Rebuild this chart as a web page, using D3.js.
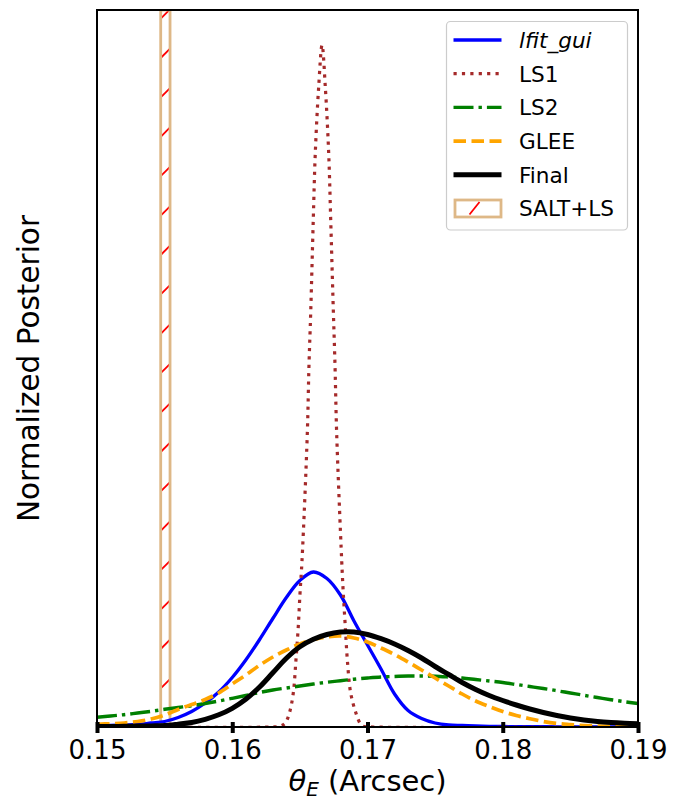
<!DOCTYPE html>
<html lang="en">
<head>
<meta charset="UTF-8">
<title>Theta_E posterior</title>
<script src="https://cdn.jsdelivr.net/npm/d3@7"></script>
<style>
  body { margin: 0; background: #fff; }
  svg { font-family: "DejaVu Sans", sans-serif; }
</style>
</head>
<body>
<div id="chart"></div>
<script>
var width = 685,
    height = 800;
var margin = {top: 10, right: 47, bottom: 73, left: 97};

// theta_E grid (arcsec) for the broad posteriors
var thetaGrid = [0.150, 0.151, 0.152, 0.153, 0.154, 0.155, 0.156, 0.157, 0.158, 0.159,
                 0.160, 0.161, 0.162, 0.163, 0.164, 0.165, 0.166, 0.167, 0.168, 0.169,
                 0.170, 0.171, 0.172, 0.173, 0.174, 0.175, 0.176, 0.177, 0.178, 0.179,
                 0.180, 0.181, 0.182, 0.183, 0.184, 0.185, 0.186, 0.187, 0.188, 0.189, 0.190];

// posterior values (arbitrary units)
var lfitGui = [1, 1.5, 2, 2.5, 4, 5.5, 9.5, 15.5, 24, 35,
               49.5, 67, 87, 108.5, 129.5, 146.5, 155, 148.5, 132, 106,
               82, 58, 33, 16.5, 8.5, 4, 2, 1.5, 1, 0.7,
               0.5, 0.4, 0.3, 0.3, 0.2, 0.2, 0.2, 0.1, 0.1, 0.1, 0.1];
var ls2 = [9.7, 11, 12.3, 14, 15.7, 17.7, 19.5, 21.3, 23.5, 26,
           28.7, 31.5, 34.5, 37, 39, 41, 43, 44.8, 46.3, 47.8,
           49, 50, 50.5, 51, 51, 50.8, 50, 49, 47.5, 46,
           44.5, 42.5, 40.5, 38.5, 36.3, 34, 31.7, 29.5, 27.3, 25.3, 23.5];
var glee = [2.7, 3.3, 4, 5.5, 8, 12, 17.5, 22.5, 27.5, 34,
            43, 52, 61.5, 70, 77, 83, 87.5, 90, 91, 89,
            85, 79, 72.5, 65, 57, 49, 41, 33, 26, 20.5,
            15.5, 11.5, 8.3, 5.5, 3.5, 2.4, 1.5, 0.9, 0.5, 0.3, 0.2];
var finalPost = [0.5, 0.5, 0.7, 0.9, 1.1, 1.4, 2.8, 4.5, 7.7, 12.2,
                 18.7, 27.7, 39.7, 54.2, 68.7, 80.2, 87.7, 92.5, 95, 95,
                 92.5, 88.3, 83, 76.5, 69, 60.5, 52.5, 44.5, 37.5, 31.5,
                 26.5, 22, 18, 14.5, 11.5, 9, 7, 5.5, 4.5, 3.8, 3.3];

// LS1 is very narrow, so it has its own theta values
var ls1Theta = [0.150, 0.16279, 0.16353, 0.16390, 0.16422, 0.16451, 0.16471, 0.16488, 0.16501, 0.16516,
                0.16555, 0.16567, 0.16580, 0.16599, 0.16614, 0.16639, 0.16664,
                0.16688, 0.16713, 0.16728, 0.16745, 0.16760, 0.16772,
                0.16809, 0.16821, 0.16836, 0.16851, 0.16876, 0.16915, 0.16945, 0.16967, 0.17041, 0.190];
var ls1 = [0, 0, 0.8, 3.7, 13.7, 33.7, 67, 100, 133.7, 167,
           293.7, 360.3, 414, 507, 574, 640, 682,
           640, 574, 507, 427, 360.3, 293.7,
           167, 133.7, 100, 67, 33.7, 13.7, 3.7, 0.8, 0, 0];

// SALT+LS range
var saltLs = [0.15471, 0.15540];

var xTicks = [0.15, 0.16, 0.17, 0.18, 0.19];
var xDomain = [0.15, 0.19];
var yMax = 717;

var x = d3.scaleLinear().domain(xDomain).range([margin.left, width - margin.right]);
var y = d3.scaleLinear().domain([0, yMax]).range([height - margin.bottom, margin.top]);

var svg = d3.select("#chart").append("svg")
    .attr("width", width)
    .attr("height", height);

svg.append("defs").append("clipPath").attr("id", "plotclip")
  .append("rect")
    .attr("x", x(xDomain[0])).attr("y", y(yMax))
    .attr("width", x(xDomain[1]) - x(xDomain[0]))
    .attr("height", y(0) - y(yMax));

svg.select("defs").append("clipPath").attr("id", "bandclip")
  .append("rect")
    .attr("x", x(saltLs[0])).attr("y", y(yMax))
    .attr("width", x(saltLs[1]) - x(saltLs[0]))
    .attr("height", y(0) - y(yMax));

var plot = svg.append("g").attr("clip-path", "url(#plotclip)");

// SALT+LS band with red '/' hatch
var bx0 = x(saltLs[0]), bx1 = x(saltLs[1]);
var hatch = plot.append("g").attr("clip-path", "url(#bandclip)");
var hatchStep = 39.4;
for (var c = 179.3 - hatchStep; c < height + 60; c += hatchStep) {
  hatch.append("line")
    .attr("x1", bx0).attr("y1", c - bx0)
    .attr("x2", bx1).attr("y2", c - bx1)
    .attr("stroke", "red").attr("stroke-width", 1.8);
}
plot.append("rect")
    .attr("x", bx0).attr("y", y(yMax))
    .attr("width", bx1 - bx0).attr("height", y(0) - y(yMax))
    .attr("fill", "none")
    .attr("stroke", "#deb887")
    .attr("stroke-width", 2.8);

var series = [
  {name: "lfit_gui", xs: thetaGrid, ys: lfitGui, color: "blue", width: 3.3, dash: null, italic: true},
  {name: "LS1", xs: ls1Theta, ys: ls1, color: "#a52a2a", width: 3.2, dash: "3.2,5.2"},
  {name: "LS2", xs: thetaGrid, ys: ls2, color: "green", width: 3.4, dash: "20,5,3.4,5"},
  {name: "GLEE", xs: thetaGrid, ys: glee, color: "orange", width: 3.7, dash: "12.5,5.5"},
  {name: "Final", xs: thetaGrid, ys: finalPost, color: "black", width: 5, dash: null}
];

var line = d3.line()
    .x(function(d) { return x(d[0]); })
    .y(function(d) { return y(d[1]); })
    .curve(d3.curveCatmullRom.alpha(0.5));

series.forEach(function(s) {
  var pts = s.xs.map(function(v, i) { return [v, s.ys[i]]; });
  plot.append("path")
    .datum(pts)
    .attr("d", line)
    .attr("fill", "none")
    .attr("stroke", s.color)
    .attr("stroke-width", s.width)
    .attr("stroke-dasharray", s.dash)
    .attr("stroke-linejoin", "round");
});

// frame
svg.append("rect")
    .attr("x", x(xDomain[0])).attr("y", y(yMax))
    .attr("width", x(xDomain[1]) - x(xDomain[0]))
    .attr("height", y(0) - y(yMax))
    .attr("fill", "none")
    .attr("stroke", "black")
    .attr("stroke-width", 2);

// x axis, ticks in-out
var gx = svg.append("g")
    .attr("transform", "translate(0," + y(0) + ")")
    .call(d3.axisBottom(x).tickValues(xTicks).tickFormat(d3.format(".2f")).tickSize(6));
gx.select(".domain").remove();
gx.selectAll(".tick line")
    .attr("y1", -5).attr("y2", 6)
    .attr("stroke", "black").attr("stroke-width", 4);
gx.selectAll(".tick text")
    .attr("y", 32).attr("dy", 0)
    .attr("fill", "black")
    .style("font-family", "DejaVu Sans")
    .style("font-size", "26px");

// axis labels
var xl = svg.append("text")
    .attr("x", (x(xDomain[0]) + x(xDomain[1])) / 2)
    .attr("y", 791)
    .attr("text-anchor", "middle")
    .style("font-size", "29px");
xl.append("tspan").attr("font-style", "italic").text("θ");
xl.append("tspan").attr("font-style", "italic").attr("font-size", "20px").attr("dy", 5).text("E");
xl.append("tspan").attr("dy", -5).text(" (Arcsec)");

svg.append("text")
    .attr("transform", "translate(39," + (y(0) + y(yMax)) / 2 + ") rotate(-90)")
    .attr("text-anchor", "middle")
    .style("font-size", "29.5px")
    .text("Normalized Posterior");

// legend
var lg = svg.append("g");
lg.append("rect")
    .attr("x", 446.5).attr("y", 21.5)
    .attr("width", 181).attr("height", 208.5)
    .attr("rx", 4)
    .attr("fill", "white").attr("fill-opacity", 0.8)
    .attr("stroke", "#cccccc").attr("stroke-width", 1.2);

var rowY = function(i) { return 40 + i * 33.7; };
series.forEach(function(s, i) {
  lg.append("line")
    .attr("x1", 453.5).attr("x2", 501.5)
    .attr("y1", rowY(i)).attr("y2", rowY(i))
    .attr("stroke", s.color)
    .attr("stroke-width", s.width)
    .attr("stroke-dasharray", s.dash);
  lg.append("text")
    .attr("x", 519).attr("y", rowY(i) + 7.9)
    .attr("font-style", s.italic ? "italic" : null)
    .style("font-size", "21.6px")
    .text(s.name);
});
var pY = rowY(5);
lg.append("rect")
    .attr("x", 455).attr("y", pY - 8.5)
    .attr("width", 46).attr("height", 17)
    .attr("fill", "white")
    .attr("stroke", "#deb887").attr("stroke-width", 2.8);
lg.append("line")
    .attr("x1", 469.5).attr("y1", pY + 6)
    .attr("x2", 479.5).attr("y2", pY - 6.5)
    .attr("stroke", "red").attr("stroke-width", 1.8);
lg.append("text")
    .attr("x", 519).attr("y", pY + 7.9)
    .style("font-size", "21.6px")
    .text("SALT+LS");
</script>
</body>
</html>
